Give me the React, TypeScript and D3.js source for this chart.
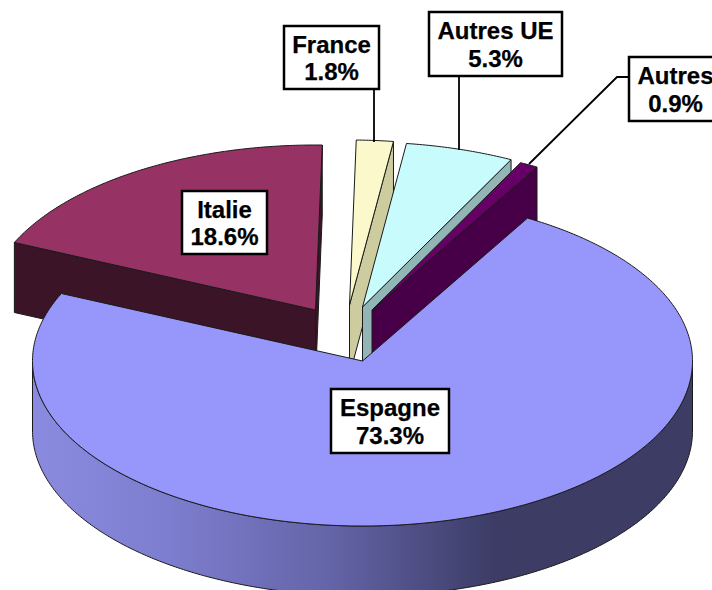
import React from "react";
import * as d3 from "d3";

// Data
const categories = ["Espagne", "Italie", "France", "Autres UE", "Autres"];
const shares = [73.3, 18.6, 1.8, 5.3, 0.9];

// Styles
const topColors = ["#9797fb", "#963364", "#fbf9cb", "#c8fbfb", "#660066"];
const wallColors = ["url(#sideGrad)", "#3c1428", "#cccc9f", "#93b5b5", "#470047"];

// Layout
const RX = 330;
const RY = 165;
const DEPTH = 70;
const START_DEG = 30;
const apexes: [number, number][] = [
  [362.5, 361],
  [315.5, 310],
  [349.5, 305],
  [362.5, 307],
  [372, 310],
];
const paintOrder = [2, 3, 4, 1, 0];
const boxes = [
  { x0: 331, x1: 449, y0: 389, y1: 453 },
  { x0: 182, x1: 267, y0: 191, y1: 254 },
  { x0: 284, x1: 379, y0: 26, y1: 89 },
  { x0: 429, x1: 562, y0: 12, y1: 76 },
  { x0: 629, x1: 722, y0: 57, y1: 121 },
];
const leaders: ([number, number][] | null)[] = [
  null,
  null,
  [[374, 89], [374, 142]],
  [[459, 76], [459, 150]],
  [[629, 77], [617, 77], [529, 164]],
];

const TAU = Math.PI * 2;
const pieGen = d3
  .pie<number>()
  .sort(null)
  .startAngle((START_DEG * Math.PI) / 180)
  .endAngle((START_DEG * Math.PI) / 180 + TAU);
const arcs = pieGen(shares);

const path = d3.line<[number, number]>().curve(d3.curveLinear);

function pt(apex: [number, number], a: number, dy = 0): [number, number] {
  return [apex[0] + RX * Math.sin(a), apex[1] - RY * Math.cos(a) + dy];
}
function arcPts(apex: [number, number], a0: number, a1: number, dy = 0): [number, number][] {
  const n = Math.max(2, Math.ceil(Math.abs(a1 - a0) / 0.01));
  return d3.range(n + 1).map((i) => pt(apex, a0 + ((a1 - a0) * i) / n, dy));
}

function Slice({ i }: { i: number }) {
  const { startAngle: a0, endAngle: a1 } = arcs[i];
  const apex = apexes[i];
  const walls: [number, number][][] = [];
  // start cut face
  if (Math.sin(a0) < 0) {
    const c = pt(apex, a0);
    walls.push([apex, c, [c[0], c[1] + DEPTH], [apex[0], apex[1] + DEPTH]]);
  }
  // end cut face
  if (Math.sin(a1) > 0) {
    const c = pt(apex, a1);
    walls.push([apex, c, [c[0], c[1] + DEPTH], [apex[0], apex[1] + DEPTH]]);
  }
  // outer rim, front half only
  const rim0 = Math.max(a0, Math.PI / 2);
  const rim1 = Math.min(a1, (3 * Math.PI) / 2);
  const rim: [number, number][] | null =
    rim1 > rim0 ? [...arcPts(apex, rim0, rim1), ...arcPts(apex, rim1, rim0, DEPTH)] : null;
  const top: [number, number][] = [apex, ...arcPts(apex, a0, a1)];
  const strokeProps = { stroke: "#1a1a1a", strokeWidth: 1, strokeLinejoin: "round" as const };
  return (
    <g>
      {walls.map((w, k) => (
        <path key={k} d={path(w)! + "Z"} fill={wallColors[i]} {...strokeProps} />
      ))}
      {rim && <path d={path(rim)! + "Z"} fill={wallColors[i]} {...strokeProps} />}
      <path d={path(top)! + "Z"} fill={topColors[i]} {...strokeProps} />
    </g>
  );
}

function Label({ i }: { i: number }) {
  const b = boxes[i];
  const cx = (b.x0 + b.x1) / 2;
  const cy = (b.y0 + b.y1) / 2;
  const textProps = {
    x: cx,
    textAnchor: "middle" as const,
    fontFamily: "'Liberation Sans', Arial, sans-serif",
    fontWeight: "bold",
    fontSize: 24,
    fill: "#000",
    stroke: "#000",
    strokeWidth: 0.25,
  };
  return (
    <g>
      <rect
        x={b.x0}
        y={b.y0}
        width={b.x1 - b.x0}
        height={b.y1 - b.y0}
        fill="#fff"
        stroke="#000"
        strokeWidth={2.5}
      />
      <text y={cy - 5} {...textProps}>
        {categories[i]}
      </text>
      <text y={cy + 22.5} {...textProps}>
        {shares[i].toFixed(1) + "%"}
      </text>
    </g>
  );
}

export default function App() {
  return (
    <svg
      width={712}
      height={590}
      viewBox="0 0 712 590"
      style={{ position: "absolute", left: 0, top: 0, background: "#fff" }}
    >
      <defs>
        <linearGradient id="sideGrad" gradientUnits="userSpaceOnUse" x1={33} x2={692} y1={0} y2={0}>
          <stop offset="0" stopColor="#8a8ae0" />
          <stop offset="0.2" stopColor="#7e7ed0" />
          <stop offset="0.45" stopColor="#6464a8" />
          <stop offset="0.7" stopColor="#3c3c66" />
          <stop offset="1" stopColor="#3c3c64" />
        </linearGradient>
      </defs>
      {paintOrder.map((i) => (
        <Slice key={i} i={i} />
      ))}
      {leaders.map((l, i) =>
        l ? <path key={i} d={path(l)!} fill="none" stroke="#000" strokeWidth={1.8} /> : null
      )}
      {categories.map((_, i) => (
        <Label key={i} i={i} />
      ))}
    </svg>
  );
}
